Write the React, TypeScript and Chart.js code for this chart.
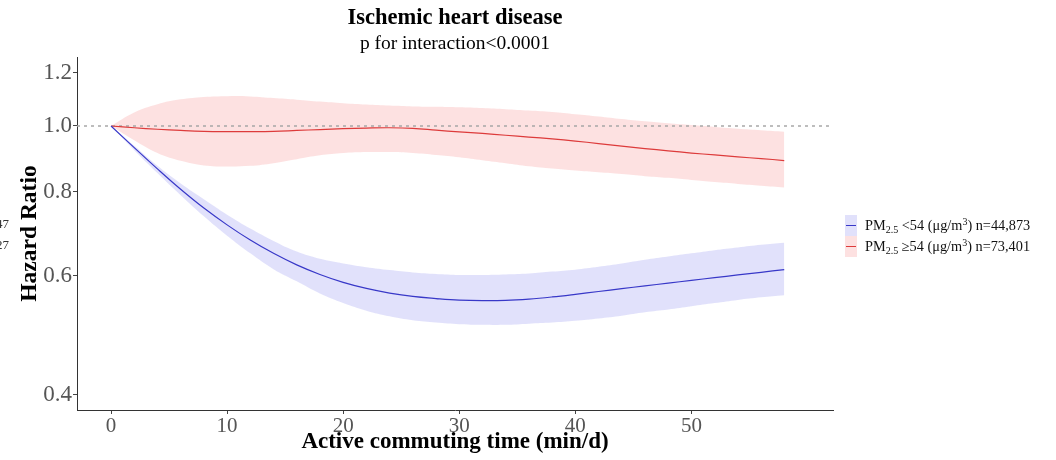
import React, { useEffect, useRef } from "react";
import { Chart, registerables } from "chart.js";

Chart.register(...registerables);

// ---- Data ----
const times = [0, 2, 4, 6, 8, 10, 12, 14, 16, 18, 20, 22, 24, 26, 28, 30, 32, 34, 36, 38, 40, 42, 44, 46, 48, 50, 52, 54, 56, 58];

const lowLine = [1.0, 0.929, 0.864, 0.806, 0.756, 0.714, 0.678, 0.648, 0.623, 0.603, 0.587, 0.575, 0.566, 0.5595, 0.5555, 0.5525, 0.5515, 0.552, 0.5545, 0.5585, 0.5635, 0.569, 0.5745, 0.58, 0.5855, 0.591, 0.5965, 0.602, 0.6075, 0.613];
const lowUpper = [1.0, 0.935, 0.873, 0.822, 0.779, 0.739, 0.705, 0.676, 0.652, 0.636, 0.626, 0.618, 0.612, 0.607, 0.604, 0.602, 0.602, 0.603, 0.605, 0.609, 0.613, 0.619, 0.626, 0.634, 0.641, 0.648, 0.655, 0.661, 0.667, 0.672];
const lowLower = [1.0, 0.921, 0.852, 0.79, 0.735, 0.688, 0.648, 0.614, 0.589, 0.565, 0.547, 0.533, 0.523, 0.516, 0.512, 0.509, 0.508, 0.508, 0.51, 0.512, 0.515, 0.519, 0.524, 0.53, 0.535, 0.541, 0.547, 0.553, 0.558, 0.562];

const highLine = [1.0, 0.994, 0.989, 0.985, 0.982, 0.981, 0.981, 0.982, 0.985, 0.988, 0.991, 0.993, 0.994, 0.992, 0.986, 0.98, 0.975, 0.969, 0.963, 0.957, 0.95, 0.942, 0.934, 0.926, 0.919, 0.912, 0.906, 0.9, 0.895, 0.889];
const highUpper = [1.0, 1.047, 1.077, 1.095, 1.104, 1.107, 1.106, 1.1, 1.094, 1.087, 1.081, 1.076, 1.072, 1.069, 1.068, 1.066, 1.063, 1.059, 1.054, 1.049, 1.041, 1.033, 1.024, 1.016, 1.009, 1.003, 0.997, 0.991, 0.986, 0.981];
const highLower = [1.0, 0.953, 0.912, 0.888, 0.874, 0.871, 0.873, 0.881, 0.893, 0.905, 0.912, 0.915, 0.915, 0.912, 0.906, 0.899, 0.89, 0.881, 0.872, 0.865, 0.859, 0.854, 0.849, 0.843, 0.838, 0.832, 0.826, 0.821, 0.816, 0.811];

const xTicks = [0, 10, 20, 30, 40, 50];
const yTicks = [0.4, 0.6, 0.8, 1.0, 1.2];
const xRange = [-2.93, 62.2];
const yRange = [0.38, 1.265];
const refValue = 1.0;

const titleText = "Ischemic heart disease";
const subtitleText = "p for interaction<0.0001";
const xTitle = "Active commuting time (min/d)";
const yTitle = "Hazard Ratio";
const lowLabel = { n: "n=44,873", op: "<54" };
const highLabel = { n: "n=73,401", op: "≥54" };

const BLUE = "#3838c8";
const BLUE_BAND = "rgba(205,205,248,0.6)";
const RED = "#dd3b3b";
const RED_BAND = "rgba(252,205,205,0.6)";
const SERIF = '"Liberation Serif", "Times New Roman", serif';

const pts = (ys: number[]) => ys.map((y, i) => ({ x: times[i], y }));

function LegendRow({ color, band, op, n }: { color: string; band: string; op: string; n: string }) {
  return (
    <div style={{ display: "flex", alignItems: "center", height: 21 }}>
      <div style={{ width: 12, height: 21, background: band, position: "relative" }}>
        <div style={{ position: "absolute", left: 1, width: 10, top: 10, height: 1, background: color }} />
      </div>
      <span style={{ marginLeft: 8, whiteSpace: "nowrap", lineHeight: "21px" }}>
        PM<span style={{ fontSize: 10, position: "relative", top: 3 }}>2.5</span> {op} (μg/m
        <span style={{ fontSize: 10, position: "relative", top: -5 }}>3</span>) {n}
      </span>
    </div>
  );
}

export default function App() {
  const ref = useRef<HTMLCanvasElement | null>(null);

  useEffect(() => {
    if (!ref.current) return;
    const band = (data: number[], bg: string | undefined, fill: any) => ({
      data: pts(data),
      borderWidth: 0,
      borderColor: "transparent",
      backgroundColor: bg,
      pointRadius: 0,
      fill,
      tension: 0.4,
    });
    const chart = new Chart(ref.current, {
      type: "line",
      data: {
        datasets: [
          { label: "low", data: pts(lowLine), borderColor: BLUE, borderWidth: 1.2, pointRadius: 0, fill: false, tension: 0.4 },
          { label: "high", data: pts(highLine), borderColor: RED, borderWidth: 1.2, pointRadius: 0, fill: false, tension: 0.4 },
          { label: "ref", data: [{ x: xRange[0], y: refValue }, { x: xRange[1], y: refValue }], borderColor: "#a8a8a8", borderWidth: 1.3, borderDash: [3, 4], pointRadius: 0, fill: false },
          { label: "lowU", ...band(lowUpper, BLUE_BAND, "+1") },
          { label: "lowL", ...band(lowLower, undefined, false) },
          { label: "highU", ...band(highUpper, RED_BAND, "+1") },
          { label: "highL", ...band(highLower, undefined, false) },
        ],
      },
      options: {
        animation: false,
        responsive: false,
        maintainAspectRatio: false,
        layout: { padding: { left: 0, right: 223, top: 0, bottom: 0 } },
        plugins: {
          legend: { display: false },
          tooltip: { enabled: false },
          title: {
            display: true,
            text: titleText,
            fullSize: false,
            color: "#000",
            font: { family: SERIF, size: 22.5, weight: "bold" },
            padding: { top: 5, bottom: 0 },
          },
          subtitle: {
            display: true,
            text: subtitleText,
            fullSize: false,
            color: "#000",
            font: { family: SERIF, size: 19.5 },
            padding: { top: 0, bottom: 1.6 },
          },
        },
        scales: {
          x: {
            type: "linear",
            min: xRange[0],
            max: xRange[1],
            afterBuildTicks: (s: any) => { s.ticks = xTicks.map((v) => ({ value: v })); },
            afterFit: (s: any) => { s.height = 50; },
            ticks: { color: "#555", font: { family: SERIF, size: 21 }, padding: 0, maxRotation: 0, callback: (v: any) => String(v) },
            grid: { drawOnChartArea: false, drawTicks: true, tickLength: 4, color: "#444" },
            border: { display: true, color: "#333", width: 1 },
            title: { display: true, text: xTitle, color: "#000", font: { family: SERIF, size: 23, weight: "bold" }, padding: { top: 0, bottom: 4 } },
          },
          y: {
            type: "logarithmic",
            min: yRange[0],
            max: yRange[1],
            afterBuildTicks: (s: any) => { s.ticks = yTicks.map((v) => ({ value: v })); },
            afterFit: (s: any) => { s.width = 77; },
            ticks: { color: "#555", font: { family: SERIF, size: 23 }, padding: 1, callback: (v: any) => Number(v).toFixed(1) },
            grid: { drawOnChartArea: false, drawTicks: true, tickLength: 4, color: "#444" },
            border: { display: true, color: "#333", width: 1 },
            title: { display: true, text: yTitle, color: "#000", font: { family: SERIF, size: 23.5, weight: "bold" }, padding: { top: 16, bottom: 0 } },
          },
        },
      } as any,
    });
    return () => chart.destroy();
  }, []);

  return (
    <div style={{ position: "fixed", left: 0, top: 0, width: 1056, height: 460, background: "#fff", overflow: "hidden" }}>
      <canvas ref={ref} width={1056} height={460} style={{ position: "absolute", left: 0, top: 0, width: 1056, height: 460 }} />
      <div style={{ position: "absolute", right: 1047, top: 213, fontFamily: SERIF, fontSize: 13, color: "#333", textAlign: "right", lineHeight: "21px" }}>
        <div>47</div>
        <div>27</div>
      </div>
      <div style={{ position: "absolute", left: 845, top: 215, fontFamily: SERIF, fontSize: 14.3, color: "#111" }}>
        <LegendRow color={BLUE} band={BLUE_BAND} op={lowLabel.op} n={lowLabel.n} />
        <LegendRow color={RED} band={RED_BAND} op={highLabel.op} n={highLabel.n} />
      </div>
    </div>
  );
}
